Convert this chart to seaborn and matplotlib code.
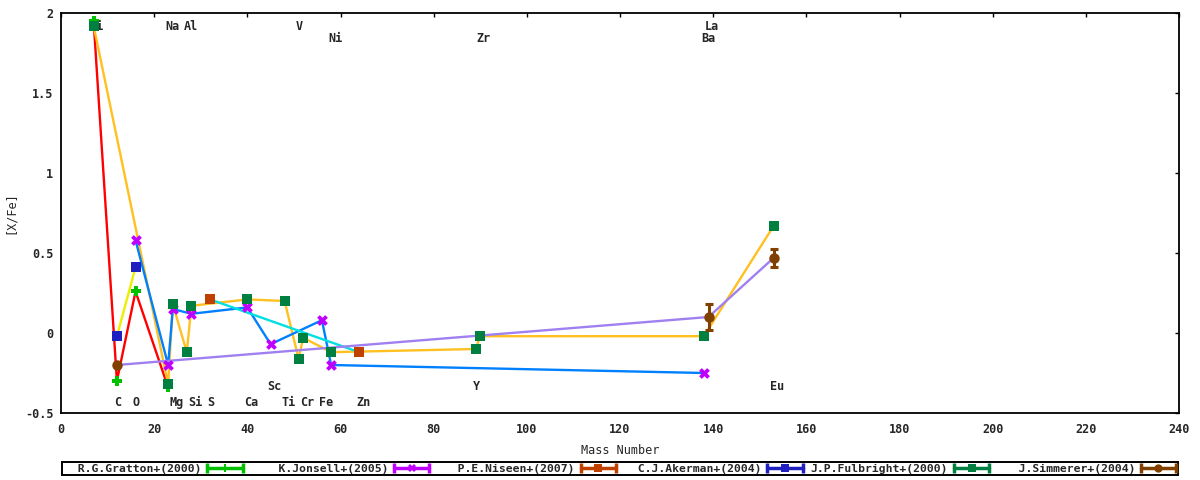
import numpy as np
import pandas as pd
import seaborn as sns
import matplotlib.pyplot as plt
from matplotlib.lines import Line2D
from matplotlib.legend_handler import HandlerBase
from matplotlib.ticker import FormatStrFormatter, MultipleLocator

# data (mass number vs [X/Fe])
gratton_x = [7, 12, 16, 23]
gratton_y = [1.95, -0.30, 0.26, -0.34]

jonsell_x = [16, 23, 24, 28, 40, 45, 56, 58, 138]
jonsell_y = [0.58, -0.20, 0.15, 0.12, 0.16, -0.07, 0.08, -0.20, -0.25]

niseen_x = [32, 64]
niseen_y = [0.21, -0.12]

akerman_x = [12, 16]
akerman_y = [-0.02, 0.41]

fulbright_x = [7, 23, 24, 27, 28, 40, 48, 51, 52, 58, 89, 90, 138, 153]
fulbright_y = [1.92, -0.32, 0.18, -0.12, 0.17, 0.21, 0.20, -0.16, -0.03, -0.12, -0.10, -0.02, -0.02, 0.67]

simmerer_x = [12, 139, 153]
simmerer_y = [-0.20, 0.10, 0.47]
simmerer_err = [0.0, 0.08, 0.055]

series_names = ["R.G.Gratton+(2000)", "K.Jonsell+(2005)", "P.E.Niseen+(2007)",
                "C.J.Akerman+(2004)", "J.P.Fulbright+(2000)", "J.Simmerer+(2004)"]

elem_names = ["Li", "Na", "Al", "V", "La", "Ni", "Zr", "Ba",
              "C", "O", "Mg", "Si", "S", "Ca", "Ti", "Cr", "Fe", "Zn",
              "Sc", "Y", "Eu"]
elem_x = [7.7, 23.9, 27.8, 51.1, 139.8, 58.9, 90.8, 138.9,
          12.2, 16.1, 24.8, 28.9, 32.2, 40.85, 48.95, 52.8, 56.9, 64.9,
          45.9, 89.1, 153.7]
elem_y = [1.896] * 5 + [1.819] * 3 + [-0.459] * 10 + [-0.359] * 3

sns.set_style("white")
plt.rcParams['font.family'] = ['DejaVu Sans Mono']
plt.rcParams['font.weight'] = 'bold'
plt.rcParams['font.size'] = 8.5
plt.rcParams['axes.unicode_minus'] = False

fig = plt.figure(figsize=(12, 4.8), dpi=100)
ax = fig.add_axes([61 / 1200, 1 - 413 / 480, 1118 / 1200, 400 / 480])

# trend lines (drawn first, under the markers)
lines = [
    (gratton_x, gratton_y, "#ff0000"),
    (akerman_x, akerman_y, "#eeee00"),
    (fulbright_x, fulbright_y, "#ffc020"),
    (jonsell_x, jonsell_y, "#0080ff"),
    (niseen_x, niseen_y, "#00e0e0"),
    (simmerer_x, simmerer_y, "#a080f0"),
]
for xs, ys, c in lines:
    sns.lineplot(x=xs, y=ys, ax=ax, color=c, lw=1.7, sort=False, estimator=None, zorder=2)

mcols = ["#00c000", "#c000ff", "#c04000", "#2020c0", "#008040", "#804000"]
marks = ["P", "X", "s", "s", "s", "o"]

pts = [(gratton_x, gratton_y, 58), (jonsell_x, jonsell_y, 60), (niseen_x, niseen_y, 46),
       (akerman_x, akerman_y, 46), (fulbright_x, fulbright_y, 46)]
for (xs, ys, s), c, m in zip(pts, mcols[:5], marks[:5]):
    sns.scatterplot(x=xs, y=ys, ax=ax, marker=m, s=s, color=c, edgecolor=c,
                    linewidth=0, legend=False, zorder=4)

ax.errorbar(simmerer_x, simmerer_y, yerr=simmerer_err, fmt='o', color=mcols[5], ms=6.5,
            capsize=2.6, elinewidth=2.2, capthick=2.2, zorder=5)

for n, x, y in zip(elem_names, elem_x, elem_y):
    ax.text(x, y, n, ha='center', va='baseline', zorder=1)

ax.set_xlim(0, 240)
ax.set_ylim(-0.5, 2)
ax.xaxis.set_major_locator(MultipleLocator(20))
ax.yaxis.set_major_locator(MultipleLocator(0.5))
ax.xaxis.set_major_formatter(FormatStrFormatter('%g'))
ax.yaxis.set_major_formatter(FormatStrFormatter('%g'))
ax.tick_params(direction='in', length=3, width=1, top=True, right=True, color='black')
ax.tick_params(axis='x', pad=7)
ax.tick_params(axis='y', pad=5.5)
for sp in ax.spines.values():
    sp.set_color('black')
    sp.set_linewidth(1.3)
ax.set_xlabel("Mass Number", labelpad=6)
ax.set_ylabel("[X/Fe]", labelpad=5.5)


class ErrKey(HandlerBase):
    # gnuplot style key sample: |--marker--|
    def create_artists(self, legend, orig_handle, xdescent, ydescent, width, height, fontsize, trans):
        c = orig_handle.get_color()
        y = height / 2 - ydescent
        x0, x1 = -xdescent, width - xdescent
        bar = Line2D([x0, x1], [y, y], color=c, lw=2.5, transform=trans)
        caps = Line2D([x0, x1], [y, y], ls='none', marker='|', ms=7, mew=2.5, color=c, transform=trans)
        dot = Line2D([(x0 + x1) / 2], [y], ls='none', marker=orig_handle.get_marker(), ms=6,
                     mew=0, color=c, transform=trans)
        return [bar, caps, dot]


handles = [Line2D([], [], color=c, marker=m) for c, m in zip(mcols, marks)]
labels = [n.rjust(20) for n in series_names]
leg = fig.legend(handles, labels, ncol=6, markerfirst=False, loc='center',
                 bbox_to_anchor=(620 / 1200, 1 - 468.5 / 480), bbox_transform=fig.transFigure,
                 prop={'size': 8.2, 'weight': 'bold'},
                 handlelength=3.1, handletextpad=0.5, columnspacing=0.72, borderpad=0.15,
                 fancybox=False, framealpha=1, edgecolor='black',
                 handler_map={Line2D: ErrKey()})
leg.get_frame().set_linewidth(1.4)

fig.savefig("out.png", dpi=100)
